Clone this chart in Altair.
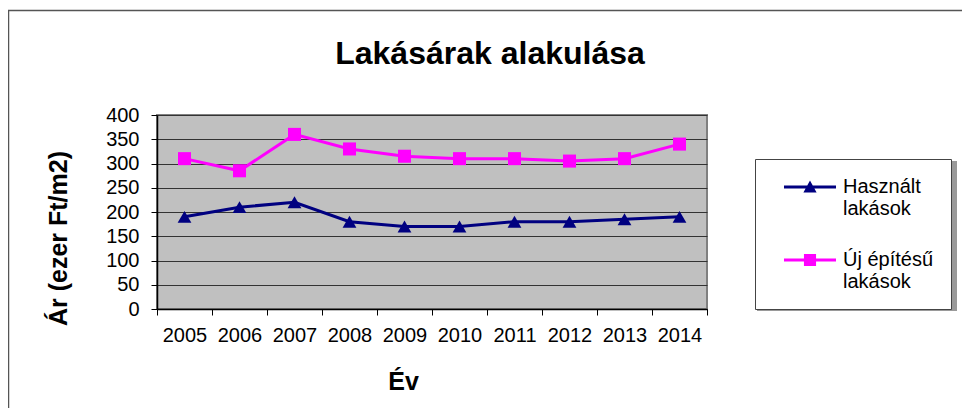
import altair as alt
import pandas as pd

years = ["2005", "2006", "2007", "2008", "2009", "2010", "2011", "2012", "2013", "2014"]
hasznalt = [190, 210, 220, 180, 170, 170, 180, 180, 185, 190]
uj = [310, 285, 360, 330, 315, 310, 310, 305, 310, 340]
series_names = ["Használt lakások", "Új építésű lakások"]
series_colors = ["#000080", "#FF00FF"]
y_ticks = [0, 50, 100, 150, 200, 250, 300, 350, 400]

rows = []
for y, v in zip(years, hasznalt):
    rows.append({"year": y, "value": v, "series": series_names[0]})
for y, v in zip(years, uj):
    rows.append({"year": y, "value": v, "series": series_names[1]})
df = pd.DataFrame(rows)

FONT = "Liberation Sans"
W, H = 550, 194

xenc = alt.X("year:O", bandPosition=0.5,
             scale=alt.Scale(type="band", paddingInner=0, paddingOuter=0, domain=years),
             axis=alt.Axis(title="Év", labelAngle=0, tickBand="extent", tickSize=6,
                           labelPadding=10, labelFontSize=20, labelFont=FONT, labelColor="black",
                           tickColor="black", domainColor="black", domainWidth=1.5, grid=False,
                           titleFont=FONT, titleFontSize=25, titleFontWeight="bold", titleColor="black",
                           titleX=246, titleY=80, titleAlign="center", titleBaseline="alphabetic"))
yenc = alt.Y("value:Q", scale=alt.Scale(domain=[0, 400], nice=False),
             axis=alt.Axis(title="Ár (ezer Ft/m2)", values=y_ticks, tickSize=6, labelPadding=12,
                           labelFontSize=20, labelFont=FONT, labelColor="black",
                           tickColor="black", domainColor="black", domainWidth=1.5,
                           gridColor="#333333", gridWidth=1,
                           titleFont=FONT, titleFontSize=25, titleFontWeight="bold", titleColor="black",
                           titleAngle=-90, titleX=-99, titleY=123, titleAlign="center",
                           titleBaseline="middle"))

color_scale = alt.Scale(domain=series_names, range=series_colors)
color_nolegend = alt.Color("series:N", scale=color_scale, legend=None)

base = alt.Chart(df)

lines = base.mark_line(strokeWidth=3).encode(x=xenc, y=yenc, color=color_nolegend)

tri = base.transform_filter(alt.datum.series == series_names[0]).mark_point(
    shape="triangle-up", filled=True, size=190, opacity=1).encode(x=xenc, y=yenc, color=color_nolegend)
sq = base.transform_filter(alt.datum.series == series_names[1]).mark_point(
    shape="square", filled=True, size=170, opacity=1).encode(x=xenc, y=yenc, color=color_nolegend)

# legend symbols: a line segment with the marker on it (path units: 11 px each)
SYM = 484
line_part = "M-3.364,-0.136H1.364V0.136H-3.364Z"
tri_path = line_part + "M-1.6,0.5L-1,-0.6L-0.4,0.5Z"
sq_path = line_part + "M-1.55,-0.55H-0.45V0.55H-1.55Z"

label_expr = ("datum.label == 'Használt lakások' ? ['Használt', 'lakások'] : "
              "['Új építésű\u00a0\u00a0\u00a0\u00a0', 'lakások']")

def make_legend():
    return alt.Legend(title=None, orient="none", legendX=598, legendY=44,
                      padding=17, strokeColor="#444444", fillColor="white",
                      labelFont=FONT, labelFontSize=20, labelColor="black",
                      labelExpr=label_expr, labelOffset=11, labelLimit=400,
                      symbolSize=SYM, symbolStrokeWidth=0, symbolOffset=38,
                      rowPadding=30)

legend_layer = base.transform_filter("false").mark_point(filled=True, size=SYM, opacity=1).encode(
    x=xenc, y=yenc,
    color=alt.Color("series:N", scale=color_scale, legend=make_legend()),
    shape=alt.Shape("series:N", scale=alt.Scale(domain=series_names, range=[tri_path, sq_path]),
                    legend=make_legend()),
)

frame = alt.Chart(alt.Data(values=[{}])).mark_rect(
    fill=None, stroke="#555555", strokeWidth=1.5).encode(
    x=alt.value(-148.5), x2=alt.value(W + 400), y=alt.value(-104.5), y2=alt.value(H + 300))

legend_shadow = alt.Chart(alt.Data(values=[{}])).mark_rect(
    fill="#9a9a9a", stroke=None).encode(
    x=alt.value(600), x2=alt.value(800), y=alt.value(46), y2=alt.value(196))

chart = alt.layer(legend_layer, frame, legend_shadow, lines, tri, sq).properties(
    width=W, height=H,
    background="white",
    padding={"left": 149, "top": 107, "right": 255, "bottom": 99},
    autosize=alt.AutoSizeParams(type="none"),
    title=alt.TitleParams("Lakásárak alakulása", font=FONT, fontSize=32, fontWeight="bold",
                          color="black", anchor="middle", frame="group", dx=58, dy=86, offset=0,
                          baseline="alphabetic"),
).configure_view(fill="#C0C0C0", stroke="#808080", strokeWidth=2)

chart.save("out.html", embed_options={"renderer": "svg", "actions": False})
